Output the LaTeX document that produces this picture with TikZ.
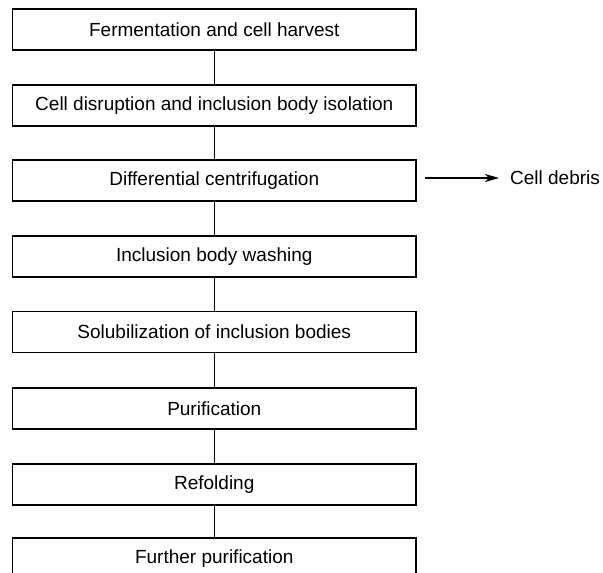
\documentclass[tikz,border=0pt]{standalone}
\usepackage{fontspec}
\setmainfont{Liberation Sans}
\usetikzlibrary{arrows.meta}
\begin{document}
\begin{tikzpicture}[x=1pt,y=-1pt,
  stepbox/.style={draw=black,line width=1.4pt,minimum width=403.5pt,minimum height=41pt,inner sep=0pt,font=\fontsize{19}{22}\selectfont,anchor=center},
  link/.style={draw=black,line width=1.2pt}]
\useasboundingbox (0,0) rectangle (603,573);
\node[stepbox] (b1) at (214.25,29.5) {Fermentation and cell harvest};
\node[stepbox] (b2) at (214.25,105.5) {Cell disruption and inclusion body isolation};
\node[stepbox] (b3) at (214.25,180.5) {Differential centrifugation};
\node[stepbox] (b4) at (214.25,256.5) {Inclusion body washing};
\node[stepbox] (b5) at (214.25,332) {Solubilization of inclusion bodies};
\node[stepbox] (b6) at (214.25,408.5) {Purification};
\node[stepbox] (b7) at (214.25,484.5) {Refolding};
\node[stepbox] (b8) at (214.25,558.5) {Further purification};
\foreach \a/\b in {b1/b2,b2/b3,b3/b4,b4/b5,b5/b6,b6/b7,b7/b8}
  \draw[link] (\a.south) -- (\b.north);
\coordinate (s) at (425,178);
\coordinate (t) at (499,178);
\node[anchor=west,inner sep=0pt,font=\fontsize{19}{22}\selectfont] (debris) at (510,178) {Cell debris};
\draw[link,-{Stealth[length=14pt,width=8pt,inset=4pt]}] (s) -- (t);
\end{tikzpicture}
\end{document}
